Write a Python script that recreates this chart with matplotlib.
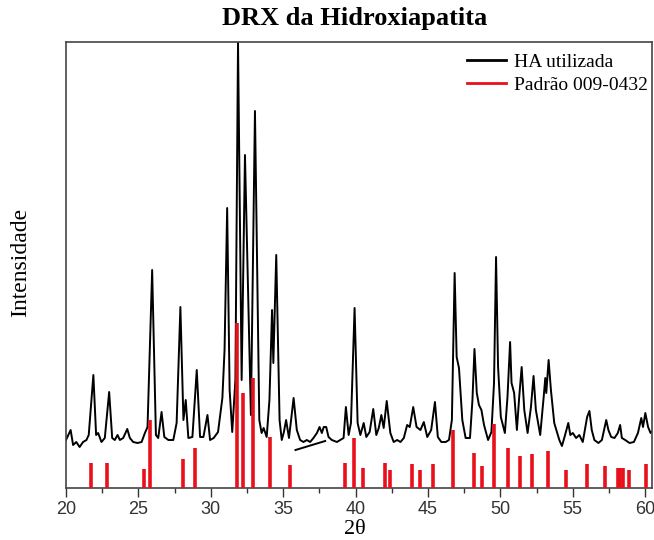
import numpy as np
import matplotlib
matplotlib.use("Agg")
import matplotlib.pyplot as plt
from matplotlib.ticker import MultipleLocator

# measured HA pattern (2theta, intensity in arbitrary units)
ha_2theta=[20.00,20.32,20.49,20.71,20.94,21.18,21.41,21.57,21.89,22.08,22.22,22.45,22.68,22.98,23.19,23.37,23.56,23.72,23.95,24.23,
           24.41,24.64,24.94,25.22,25.45,25.63,25.95,26.21,26.37,26.60,26.79,27.07,27.41,27.64,27.90,28.11,28.27,28.45,28.73,29.03,
           29.26,29.49,29.77,29.95,30.20,30.50,30.80,30.95,31.13,31.30,31.48,31.70,31.88,32.13,32.36,32.77,33.05,33.35,33.51,33.65,
           33.86,34.05,34.23,34.32,34.52,34.75,34.90,35.05,35.20,35.40,35.72,35.94,36.17,36.40,36.63,36.86,37.09,37.33,37.51,37.67,
           37.80,37.97,38.13,38.36,38.71,38.94,39.17,39.33,39.52,39.68,39.93,40.14,40.33,40.56,40.74,40.97,41.22,41.43,41.60,41.78,
           41.94,42.15,42.40,42.63,42.87,43.10,43.33,43.56,43.74,43.98,44.21,44.48,44.71,44.95,45.22,45.48,45.68,45.92,46.22,46.45,
           46.65,46.84,46.98,47.14,47.37,47.60,47.90,48.07,48.21,48.37,48.52,48.69,48.87,49.15,49.38,49.56,49.70,49.84,50.03,50.31,
           50.49,50.67,50.77,50.95,51.14,51.30,51.47,51.65,51.88,52.11,52.29,52.45,52.75,52.99,53.10,53.17,53.33,53.49,53.72,54.07,
           54.25,54.41,54.69,54.83,55.00,55.23,55.45,55.69,55.99,56.15,56.31,56.49,56.77,57.01,57.31,57.46,57.65,57.88,58.11,58.27,
           58.39,58.62,58.92,59.22,59.50,59.73,59.85,60.01,60.20,60.37,60.45]
ha_int=[48,58,43,46,41,46,48,53,113,53,55,46,50,96,50,48,53,48,50,59,
        50,46,45,46,55,61,218,53,50,76,51,48,48,65,181,68,88,50,51,118,
        51,51,73,48,50,56,90,138,280,98,56,108,446,108,333,73,377,68,55,60,
        51,88,178,125,233,68,48,56,68,50,90,58,48,46,48,46,50,55,61,55,
        61,61,51,48,46,48,50,81,53,65,180,65,53,65,51,56,79,53,60,73,
        60,87,55,46,48,46,50,63,61,81,61,58,66,51,58,86,51,46,46,48,
        68,215,131,120,68,50,50,88,139,95,83,78,63,48,56,105,231,121,71,55,
        91,146,105,95,58,91,121,78,55,81,112,78,53,91,110,95,128,98,65,48,
        42,50,65,53,55,50,53,46,71,77,58,48,45,48,68,58,51,50,55,63,
        50,48,45,46,55,70,61,75,61,55,56]

# reference pattern 009-0432 (stick positions and heights)
ref_2theta=[21.73,22.84,25.36,25.82,28.08,28.94,31.78,32.20,32.93,34.09,35.47,39.24,39.86,40.51,42.01,42.36,43.91,44.43,
            45.36,46.75,48.18,48.71,49.56,50.56,51.37,52.18,53.31,54.53,55.99,57.24,58.11,58.29,58.46,58.88,60.08]
ref_int=[25,25,19,68,29,40,165,95,110,51,23,25,50,20,25,18,24,18,
         24,58,35,22,64,40,32,34,37,18,24,22,20,20,20,18,24]

# stray segment drawn in the original figure
seg_2theta=[35.85,37.90]
seg_int=[38,47]

serif="Liberation Serif"
fig=plt.figure(figsize=(6.54,5.4),dpi=100)
ax=fig.add_axes([66/654,52/540,(651.7-66)/654,446/540])

ax.plot(ha_2theta,ha_int,color="black",lw=1.4,label="HA utilizada",zorder=2)
ax.plot(seg_2theta,seg_int,color="black",lw=1.4,zorder=2)
ax.vlines(ref_2theta,0,ref_int,color="#e8101a",lw=2.6,zorder=3)
ax.plot([],[],color="#e8101a",lw=2,label="Padrão 009-0432")

ax.set_xlim(20,60.45)
ax.set_ylim(0,446)
ax.set_yticks([])
ax.xaxis.set_major_locator(MultipleLocator(5))
ax.xaxis.set_minor_locator(MultipleLocator(2.5))
ax.tick_params(axis="x",which="major",direction="out",length=6.5,width=1,labelsize=13,pad=2.5,colors="#333333")
ax.tick_params(axis="x",which="minor",direction="out",length=3.5,width=1,colors="#333333")
for lab in ax.get_xticklabels():
    lab.set_family("Liberation Sans")
for sp in ax.spines.values():
    sp.set_color("#444444")
    sp.set_linewidth(1.2)

fig.text(355/654,1-18/540,"DRX da Hidroxiapatita",ha="center",va="center",fontsize=19,fontweight="bold",family=serif)
fig.text(21/654,1-262/540,"Intensidade",rotation=90,ha="center",va="center",fontsize=17,family=serif)
fig.text(355/654,1-529/540,"2θ",ha="center",va="center",fontsize=16,family=serif)

leg=ax.legend(loc="upper right",bbox_to_anchor=(648/654,1-53/540),bbox_transform=fig.transFigure,frameon=False,
              prop={"family":serif,"size":14},handlelength=2.0,handletextpad=0.4,labelspacing=0.3,borderpad=0,borderaxespad=0)
for line in leg.get_lines():
    line.set_linewidth(2)

fig.savefig("out.png",dpi=100)
